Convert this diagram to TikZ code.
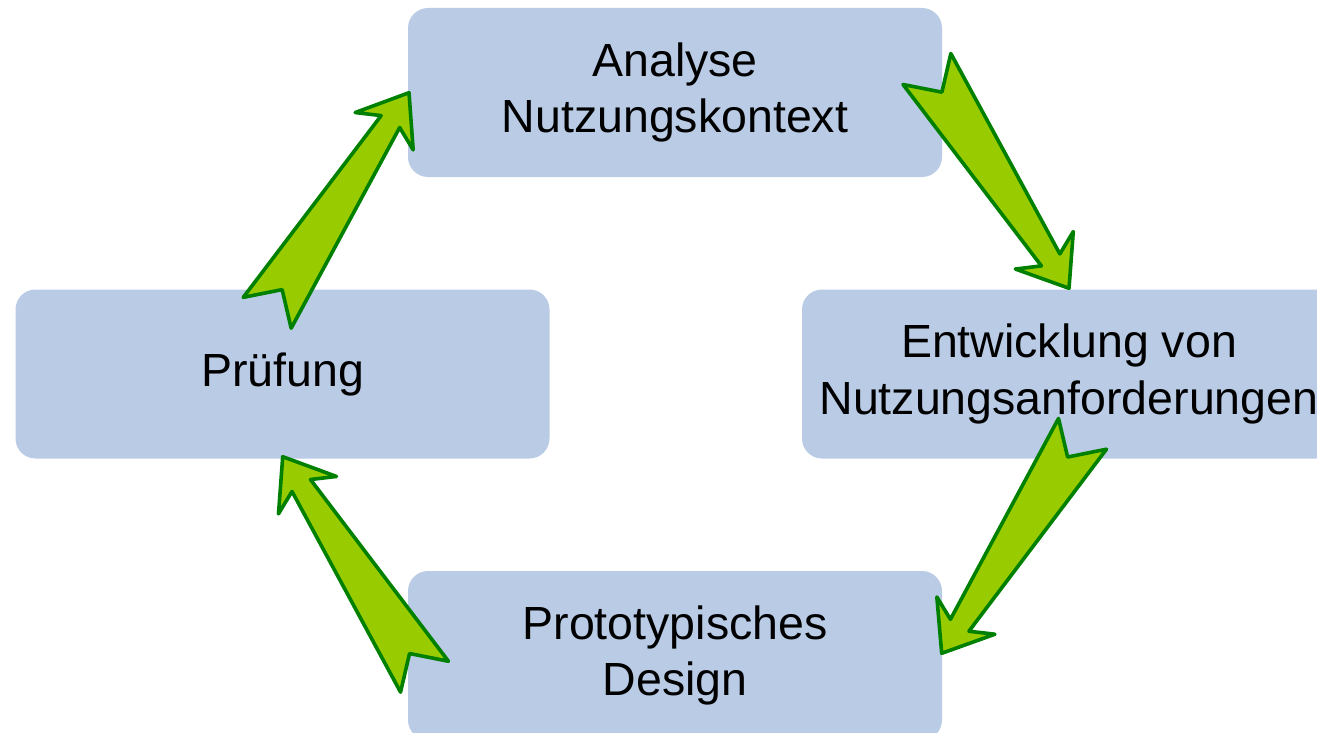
\documentclass[tikz,border=0pt]{standalone}
\usepackage{fontspec}
\setmainfont{Liberation Sans}
\usetikzlibrary{calc}
\definecolor{boxfill}{RGB}{185,203,229}
\definecolor{arrowfill}{RGB}{153,204,0}
\definecolor{arrowline}{RGB}{0,128,0}
\tikzset{
  phase/.style={fill=boxfill, rounded corners=20pt, minimum width=534pt,
    minimum height=169pt, inner sep=0pt, align=center,
    font=\fontsize{46.5}{56.7}\selectfont},
  flow/.style={fill=arrowfill, draw=arrowline, line width=3.6pt, line join=round}
}
% Tapered block arrow with a forked tail, from tail centre #1 to tip #2
\newcommand\blockarrow[2]{%
  \draw[flow]
    ($(#1)!28.5pt!90:(#2)$) -- ($(#1)!27.6pt!(#2)$) -- ($(#1)!28.5pt!-90:(#2)$)
    -- ($(#1)!227.5pt!(#2)!11pt!-90:(#2)$) -- ($(#1)!216pt!(#2)!34.5pt!-90:(#2)$)
    -- (#2)
    -- ($(#1)!216pt!(#2)!34.5pt!90:(#2)$) -- ($(#1)!227.5pt!(#2)!11pt!90:(#2)$)
    -- cycle;}
\begin{document}
\begin{tikzpicture}[x=1pt,y=-1pt]
  \useasboundingbox (0,0) rectangle (1317,733);
  \clip (0,0) rectangle (1317,733);
  \node[phase] (ana) at (675,92.5) {Analyse\\Nutzungskontext};
  \node[phase] (ent) at (1069,374) {Entwicklung von\\Nutzungsanforderungen};
  \node[phase] (pro) at (675,655.5) {Prototypisches\\Design};
  \node[phase] (pru) at (282.5,374) {Prüfung};
  % tail centres and tips of the cycle arrows
  \coordinate (t1) at (926.9,69);    \coordinate (h1) at (1069,288.3);
  \coordinate (t2) at (1082.5,433.8); \coordinate (h2) at (941.7,653.3);
  \coordinate (t3) at (424.5,676.7);  \coordinate (h3) at (282.7,456.7);
  \coordinate (t4) at (267.2,312.8);  \coordinate (h4) at (409,92.7);
  \blockarrow{t1}{h1}
  \blockarrow{t2}{h2}
  \blockarrow{t3}{h3}
  \blockarrow{t4}{h4}
\end{tikzpicture}
\end{document}
